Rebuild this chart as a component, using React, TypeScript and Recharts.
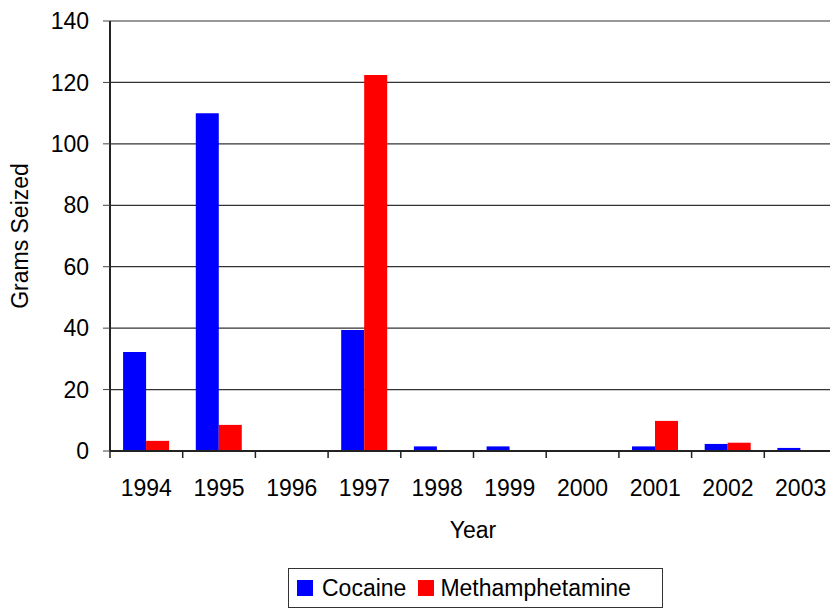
import React from 'react';
import { BarChart, Bar, XAxis, YAxis, CartesianGrid, Legend } from 'recharts';

const years = ['1994', '1995', '1996', '1997', '1998', '1999', '2000', '2001', '2002', '2003'];
const cocaine = [32.2, 110, 0, 39.4, 1.5, 1.5, 0, 1.5, 2.3, 1.0];
const meth = [3.3, 8.5, 0, 122.4, 0, 0, 0, 9.8, 2.7, 0];
const yTicks = [0, 20, 40, 60, 80, 100, 120, 140];

const data = years.map((y, i) => ({ year: y, Cocaine: cocaine[i], Methamphetamine: meth[i] }));

const FONT = 'Liberation Sans, Arial, sans-serif';

const XTick = (props: any) => {
  const { x, y, payload, index } = props;
  const off = payload && payload.offset ? payload.offset : 0;
  const last = index === years.length - 1;
  return (
    <g>
      <line x1={x - off} x2={x - off} y1={y} y2={y + 7} stroke="#222" strokeWidth={1.5} />
      {last && <line x1={x + off} x2={x + off} y1={y} y2={y + 7} stroke="#222" strokeWidth={1.5} />}
      <text x={x} y={y + 45} textAnchor="middle" fontSize={23} fontFamily={FONT} fill="#000">
        {payload.value}
      </text>
    </g>
  );
};

const LegendContent = () => (
  <div
    style={{
      boxSizing: 'border-box',
      width: 375,
      height: 40,
      border: '1px solid #333',
      display: 'flex',
      alignItems: 'center',
      fontFamily: FONT,
      fontSize: 23,
      color: '#000',
      paddingLeft: 8,
      background: '#fff',
    }}
  >
    <span style={{ display: 'inline-block', width: 16, height: 16, background: '#0000ff', marginRight: 9 }} />
    <span style={{ marginRight: 12 }}>Cocaine</span>
    <span style={{ display: 'inline-block', width: 16, height: 16, background: '#ff0000', marginRight: 6 }} />
    <span>Methamphetamine</span>
  </div>
);

export default function App() {
  return (
    <div style={{ position: 'absolute', left: 0, top: 0, width: 830, height: 609, background: '#fff', overflow: 'hidden' }}>
      <BarChart
        width={830}
        height={609}
        data={data}
        margin={{ top: 21, right: -7, left: 0, bottom: 0 }}
        barCategoryGap="18%"
        barGap={0}
      >
        <CartesianGrid vertical={false} stroke="#333" strokeWidth={1.2} />
        <XAxis
          dataKey="year"
          height={158}
          tickLine={false}
          tickSize={0}
          tickMargin={0}
          axisLine={{ stroke: '#222', strokeWidth: 2 }}
          tick={<XTick />}
          interval={0}
          label={{
            content: () => (
              <text x={473} y={538} textAnchor="middle" fontSize={23} fontFamily={FONT} fill="#000">
                Year
              </text>
            ),
          }}
        />
        <YAxis
          width={110}
          domain={[0, 140]}
          ticks={yTicks}
          interval={0}
          tickSize={7}
          tickMargin={14}
          tickLine={{ stroke: '#444' }}
          axisLine={{ stroke: '#222', strokeWidth: 2 }}
          tick={{ fontSize: 23, fontFamily: FONT, fill: '#000' }}
          label={{
            content: () => (
              <text
                x={0}
                y={0}
                transform="translate(28,236) rotate(-90)"
                textAnchor="middle"
                fontSize={23}
                fontFamily={FONT}
                fill="#000"
              >
                Grams Seized
              </text>
            ),
          }}
        />
        <Legend
          layout="horizontal"
          verticalAlign="middle"
          align="center"
          content={<LegendContent />}
          wrapperStyle={{ position: 'absolute', left: 288, top: 568, width: 375, height: 40 }}
        />
        <Bar dataKey="Cocaine" fill="#0000ff" isAnimationActive={false} />
        <Bar dataKey="Methamphetamine" fill="#ff0000" isAnimationActive={false} />
      </BarChart>
    </div>
  );
}
